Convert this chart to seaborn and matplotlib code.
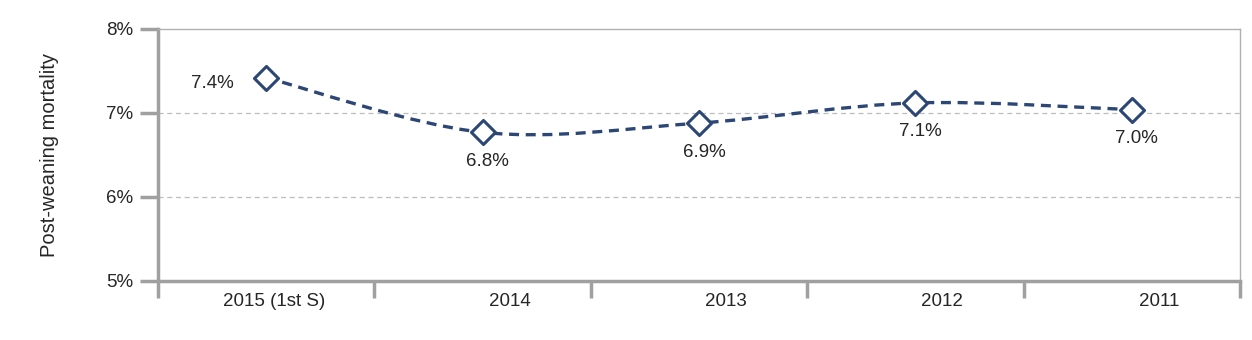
import numpy as np
import pandas as pd
import matplotlib
matplotlib.use("Agg")
import matplotlib.pyplot as plt
import seaborn as sns
from matplotlib.path import Path
from matplotlib.patches import PathPatch
from matplotlib.transforms import ScaledTranslation, offset_copy

categories = ["2015 (1st S)", "2014", "2013", "2012", "2011"]
values = [7.42, 6.77, 6.88, 7.12, 7.04]
labels = ["7.4%", "6.8%", "6.9%", "7.1%", "7.0%"]
yticks = [5, 6, 7, 8]
ytick_labels = ["5%", "6%", "7%", "8%"]

sns.set_theme(style="white")
plt.rcParams["font.family"] = ["Liberation Sans", "DejaVu Sans"]

NAVY = "#2C4675"
GRAY = "#A0A0A0"
TXT = "#262626"

fig = plt.figure(figsize=(12.52, 3.40), dpi=100)
ax = fig.add_axes([158 / 1252, 1 - 281 / 340, (1240 - 158) / 1252, (281 - 29) / 340])

df = pd.DataFrame({"x": np.arange(len(categories)), "y": values, "cat": categories})

# smooth dashed line (Catmull-Rom as cubic Bezier segments, drawing style only)
pts = df[["x", "y"]].to_numpy(dtype=float)
verts = [tuple(pts[0])]
codes = [Path.MOVETO]
n = len(pts)
for i in range(n - 1):
    p0 = pts[i - 1] if i > 0 else pts[i]
    p1 = pts[i]
    p2 = pts[i + 1]
    p3 = pts[i + 2] if i + 2 < n else pts[i + 1]
    c1 = p1 + (p2 - p0) / 6.0
    c2 = p2 - (p3 - p1) / 6.0
    verts += [tuple(c1), tuple(c2), tuple(p2)]
    codes += [Path.CURVE4] * 3
patch = PathPatch(Path(verts, codes), facecolor="none", edgecolor=NAVY,
                  lw=2.4, linestyle=(0, (3, 2)), zorder=3)
ax.add_patch(patch)

sns.scatterplot(data=df, x="x", y="y", marker="D", s=150, facecolor="white",
                edgecolor=NAVY, linewidth=2.2, zorder=4, ax=ax, legend=False)

# data labels
for i, (v, t) in enumerate(zip(values, labels)):
    if i == 0:
        tr = offset_copy(ax.transData, fig=fig, x=-54, y=-6, units="dots")
    else:
        tr = offset_copy(ax.transData, fig=fig, x=5, y=-29, units="dots")
    ax.text(i, v, t, transform=tr, ha="center", va="center", fontsize=13.5, color=TXT)

ax.set_xlim(-0.5, len(categories) - 0.5)
ax.set_ylim(5, 8)
ax.set_yticks(yticks)
ax.set_yticklabels(ytick_labels)
ax.set_xticks(np.arange(len(categories)))
ax.set_xticklabels(categories)
ax.set_xticks(np.arange(-0.5, len(categories), 1.0), minor=True)
ax.tick_params(axis="x", which="major", bottom=True, length=0, pad=9, labelsize=13.5, labelcolor=TXT)
ax.tick_params(axis="x", which="minor", bottom=True, length=12, width=2.5, color=GRAY, direction="out")
ax.tick_params(axis="y", which="major", left=True, length=13, width=2.5, color=GRAY, direction="out",
               pad=5, labelsize=13.5, labelcolor=TXT)
for j, lab in enumerate(ax.get_xticklabels()):
    dx = 0.08 if j == 0 else 0.27
    lab.set_transform(lab.get_transform() + ScaledTranslation(dx, 0, fig.dpi_scale_trans))

for y in [6, 7]:
    ax.axhline(y, color="#BDBDBD", lw=0.9, linestyle=(0, (4, 3)), zorder=1)

ax.set_xlabel("")
ax.set_ylabel("Post-weaning mortality", fontsize=14.5, color=TXT, labelpad=34)

for s in ["left", "bottom"]:
    ax.spines[s].set_color(GRAY)
    ax.spines[s].set_linewidth(2.5)
for s in ["top", "right"]:
    ax.spines[s].set_color("#B0B0B0")
    ax.spines[s].set_linewidth(1.0)

fig.savefig("out.png", dpi=100)
